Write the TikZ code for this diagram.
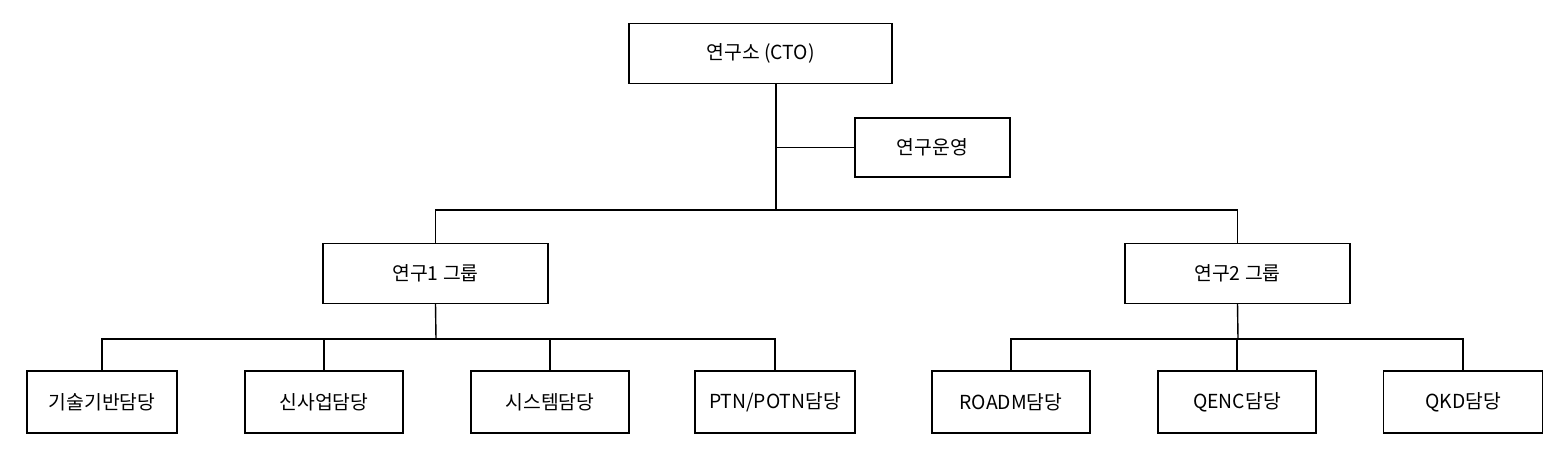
\documentclass[tikz,border=0pt]{standalone}
\usepackage{fontspec}
\setmainfont{Noto Sans CJK KR}
\usetikzlibrary{positioning}

\begin{document}
\begin{tikzpicture}[
    x=0.02cm, y=-0.02cm,
    every node/.style={font=\fontsize{11}{13}\selectfont},
    unit/.style={draw, thick, minimum height=1.2cm, inner sep=0pt},
    wire/.style={draw, thick}
]
    \useasboundingbox (0,0) rectangle (1567,467);
    % top levels
    \node[unit, minimum width=5.26cm] (cto) at (760.5,53.5) {연구소 (CTO)};
    \node[unit, minimum width=3.1cm, minimum height=1.18cm] (ops) at (932.5,147.5) {연구운영};
    \node[unit, minimum width=4.5cm] (grp1) at (435.5,273.5) {연구1 그룹};
    \node[unit, minimum width=4.5cm] (grp2) at (1237.5,273.5) {연구2 그룹};
    % teams
    \node[unit, minimum width=3cm, minimum height=1.24cm] (t1) at (102,402) {기술기반담당};
    \node[unit, minimum width=3.16cm, minimum height=1.24cm] (t2) at (324,402) {신사업담당};
    \node[unit, minimum width=3.16cm, minimum height=1.24cm] (t3) at (550,402) {시스템담당};
    \node[unit, minimum width=3.2cm, minimum height=1.24cm] (t4) at (775,402) {PTN/POTN담당};
    \node[unit, minimum width=3.16cm, minimum height=1.24cm] (t5) at (1011,402) {ROADM담당};
    \node[unit, minimum width=3.16cm, minimum height=1.24cm] (t6) at (1237,402) {QENC담당};
    \node[unit, minimum width=3.18cm, minimum height=1.24cm] (t7) at (1463,402) {QKD담당};
    % junctions
    \coordinate (top) at (776,84);
    \coordinate (bus0) at (776,210);
    \coordinate (bus1) at (436,339);
    \coordinate (bus2) at (1238,339);

    \draw[wire] (top) -- (bus0);
    \draw[wire] (ops.west) -- (ops.west -| top);
    \draw[wire] (bus0) -| (grp1.north);
    \draw[wire] (bus0) -| (grp2.north);
    \draw[wire] (grp1.south) -- (bus1);
    \draw[wire] (grp2.south) -- (bus2);
    \foreach \t in {t1,t2,t3,t4}
        \draw[wire] (bus1) -| (\t.north);
    \foreach \t in {t5,t6,t7}
        \draw[wire] (bus2) -| (\t.north);
\end{tikzpicture}
\end{document}
